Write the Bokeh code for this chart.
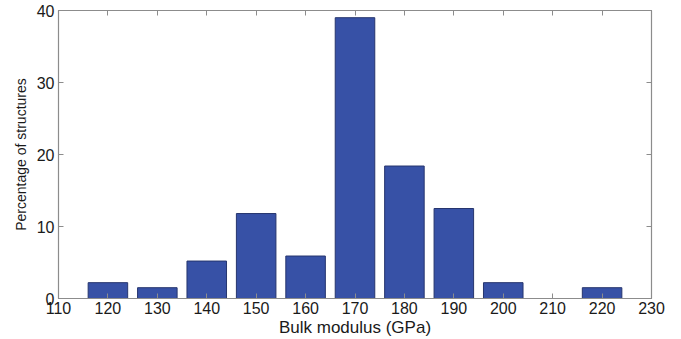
from bokeh.plotting import figure
from bokeh.models import LinearAxis, FixedTicker, Range1d
from bokeh.embed import file_html
from bokeh.resources import INLINE

bulk_modulus = [120, 130, 140, 150, 160, 170, 180, 190, 200, 210, 220]
percentage = [2.2, 1.5, 5.2, 11.8, 5.9, 39.0, 18.4, 12.5, 2.2, 0.0, 1.5]
x_ticks = [110, 120, 130, 140, 150, 160, 170, 180, 190, 200, 210, 220, 230]
y_ticks = [0, 10, 20, 30, 40]

FONT = "Liberation Sans"
GREY = "#8c8c8c"

p = figure(width=681, height=339, output_backend="svg", toolbar_location=None,
           x_range=Range1d(110, 230), y_range=Range1d(0, 40),
           min_border_left=58, min_border_right=30, min_border_top=10, min_border_bottom=41)
p.outline_line_color = GREY
p.outline_line_width = 1.2
p.grid.visible = False
p.background_fill_color = "white"
p.border_fill_color = "white"

p.vbar(x=bulk_modulus, top=percentage, width=8, bottom=0,
       fill_color="#3751A6", line_color="#26356e", line_width=1)

def style(ax, labels=True):
    ax.axis_line_color = GREY
    ax.major_tick_line_color = GREY
    ax.major_tick_in = 5
    ax.major_tick_out = 0
    ax.minor_tick_line_color = None
    ax.major_label_text_font = FONT
    ax.major_label_text_font_size = "16px" if labels else "1px"
    ax.major_label_text_color = "#1a1a1a" if labels else None
    ax.axis_label_text_font = FONT
    ax.axis_label_text_font_style = "normal"
    ax.axis_label_text_color = "#1a1a1a"

p.xaxis.ticker = FixedTicker(ticks=x_ticks)
p.yaxis.ticker = FixedTicker(ticks=y_ticks)
style(p.xaxis[0])
style(p.yaxis[0])
p.xaxis.axis_label = "Bulk modulus (GPa)"
p.yaxis.axis_label = "Percentage of structures"
p.xaxis.axis_label_text_font_size = "17px"
p.yaxis.axis_label_text_font_size = "14px"
p.xaxis.major_label_standoff = 3
p.xaxis.axis_label_standoff = 1
p.yaxis.major_label_standoff = 4
p.yaxis.axis_label_standoff = 5

top = LinearAxis(ticker=FixedTicker(ticks=x_ticks))
style(top, labels=False)
top.major_label_standoff = 0
right = LinearAxis(ticker=FixedTicker(ticks=y_ticks))
style(right, labels=False)
right.major_label_standoff = 0
p.add_layout(top, "above")
p.add_layout(right, "right")

open("out.html", "w").write(file_html(p, INLINE))
